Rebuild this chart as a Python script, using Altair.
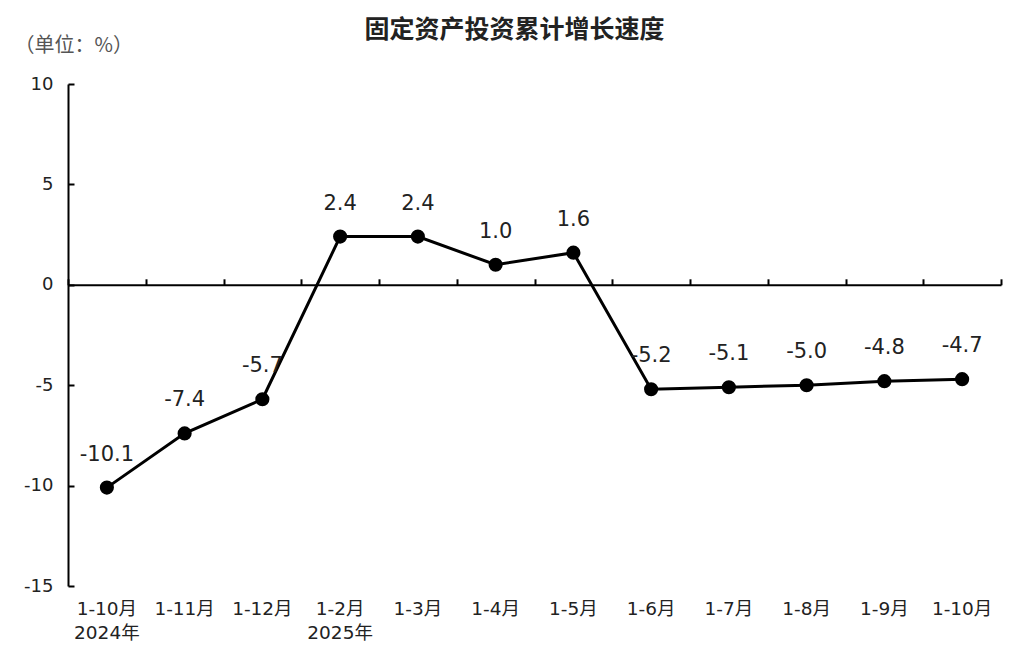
import altair as alt
import pandas as pd

# Cumulative fixed-asset investment growth, year-on-year (%)
months = ["1-10月", "1-11月", "1-12月", "1-2月", "1-3月", "1-4月",
          "1-5月", "1-6月", "1-7月", "1-8月", "1-9月", "1-10月"]
year_marks = ["2024年", "", "", "2025年", "", "", "", "", "", "", "", ""]
growth = [-10.1, -7.4, -5.7, 2.4, 2.4, 1.0, 1.6, -5.2, -5.1, -5.0, -4.8, -4.7]
y_ticks = [10, 5, 0, -5, -10, -15]

periods = [f"{m}|{y}" for m, y in zip(months, year_marks)]
df = pd.DataFrame({"period": periods, "growth": growth})
df["label"] = [f"{v:.1f}" for v in growth]

FONT = "DejaVu Sans, Noto Sans CJK SC"
W, H = 933, 502
Y_MIN, Y_MAX = -15, 10

x_scale = alt.Scale(type="band", paddingInner=0, paddingOuter=0)
y_scale = alt.Scale(domain=[Y_MIN, Y_MAX], nice=False, zero=False)

# category labels at the bottom of the plot (two lines where a year is given)
bottom_axis = alt.Axis(
    orient="bottom", domain=False, ticks=False, grid=False, title=None,
    labelExpr="split(datum.value, '|')", labelAngle=0, labelFont=FONT,
    labelFontSize=18.5, labelColor="#222", labelPadding=13, labelLineHeight=24,
)
# the category axis line itself runs along zero, ticks between categories
zero_axis = alt.Axis(
    orient="top", offset=-H * Y_MAX / (Y_MAX - Y_MIN), domain=True,
    domainColor="black", domainWidth=2, ticks=True, tickBand="extent",
    tickSize=6, tickWidth=2, tickColor="black", labels=False, grid=False,
    title=None,
)
left_axis = alt.Axis(
    orient="left", values=y_ticks, labelExpr="'' + datum.value",
    domain=True, domainColor="black", domainWidth=2, ticks=False, grid=False,
    labelFont=FONT, labelFontSize=18, labelColor="#222", labelPadding=15,
    title="（单位：%）", titleAngle=0, titleAlign="left", titleBaseline="middle",
    titleX=-54, titleY=-39, titleFont="Noto Sans CJK SC", titleFontSize=20,
    titleFontWeight="normal", titleColor="#555",
)
# inward-pointing value ticks on the vertical axis
inner_ticks = alt.Axis(
    orient="right", offset=-W, values=y_ticks, domain=False, ticks=True,
    tickSize=6, tickWidth=2, tickColor="black", labels=False, grid=False,
    title=None,
)

base = alt.Chart(df)

line = base.mark_line(color="black", strokeWidth=3).encode(
    x=alt.X("period:O", sort=periods, scale=x_scale, bandPosition=0.5,
            axis=bottom_axis),
    y=alt.Y("growth:Q", scale=y_scale, axis=left_axis),
)

points = base.mark_point(filled=True, size=200, color="black", opacity=1).encode(
    x=alt.X("period:O", sort=periods, scale=x_scale, bandPosition=0.5,
            axis=zero_axis),
    y=alt.Y("growth:Q", scale=y_scale, axis=inner_ticks),
)

labels = base.mark_text(dy=-33, fontSize=21, font=FONT, color="#222",
                        baseline="middle").encode(
    x=alt.X("period:O", sort=periods, scale=x_scale, bandPosition=0.5,
            axis=None),
    y=alt.Y("growth:Q", scale=y_scale, axis=None),
    text="label:N",
)

chart = (
    alt.layer(line, points, labels)
    .resolve_axis(x="independent", y="independent")
    .properties(
        width=W,
        height=H,
        title=alt.TitleParams(
            "固定资产投资累计增长速度", font="Noto Sans CJK SC", fontSize=25,
            fontWeight="bold", color="#222", anchor="middle", dx=-20, offset=-8,
        ),
        autosize=alt.AutoSizeParams(type="none"),
        padding={"left": 68, "top": 84, "right": 23, "bottom": 83},
        background="white",
    )
    .configure_view(stroke=None)
)

chart.save("out.html", embed_options={"renderer": "svg", "actions": False})
